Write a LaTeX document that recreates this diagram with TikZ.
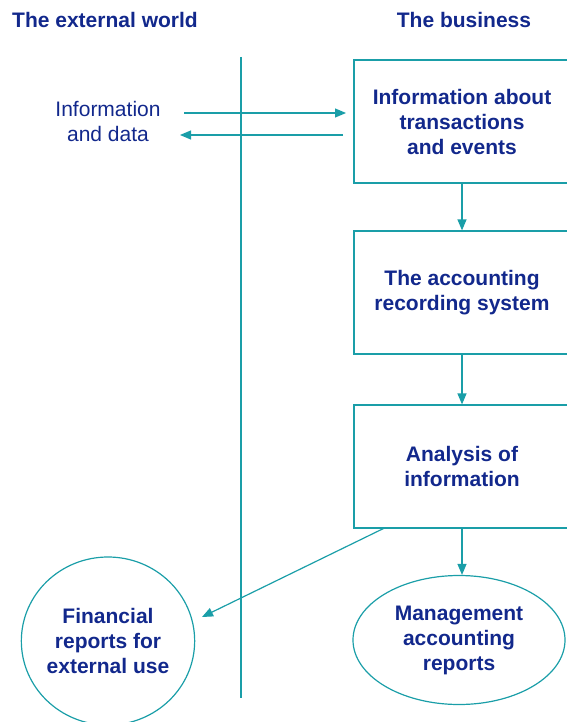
\documentclass[tikz,border=0pt]{standalone}
\usepackage{fontspec}
\setmainfont{Liberation Sans}
\usetikzlibrary{arrows.meta,shapes.geometric}
\definecolor{navy}{HTML}{12288C}
\definecolor{teal}{HTML}{1A9EA8}
\begin{document}
\begin{tikzpicture}[x=1pt,y=-1pt,
  every node/.style={text=navy,font=\fontsize{21}{25}\selectfont,align=center,inner sep=0pt},
  hdr/.style={font=\fontsize{21}{25}\selectfont\bfseries},
  stagebox/.style={draw=teal,line width=1.2pt,minimum width=216pt,minimum height=123pt,font=\fontsize{21}{25}\selectfont\bfseries},
  ell/.style={draw=teal,line width=1.2pt,ellipse,font=\fontsize{21}{25}\selectfont\bfseries},
  conn/.style={draw=teal,line width=1.2pt,-{Triangle[length=11pt,width=9pt]}},
  plain/.style={draw=teal,line width=1.2pt}]
\useasboundingbox (0,0) rectangle (566,722);
\node[hdr] (hl) at (105,20) {The external world};
\node[hdr] (hr) at (464,20) {The business};
\coordinate (vt) at (241,57);
\coordinate (vb) at (241,698);
\draw[plain] (vt) -- (vb);
\node (info) at (108,121) {Information\\and data};
\node[stagebox] (b1) at (462,121.5) {Information about\\transactions\\and events};
\node[stagebox] (b2) at (462,292.5) {The accounting\\recording system};
\node[stagebox] (b3) at (462,466.5) {Analysis of\\information};
\node[ell,minimum width=168pt,minimum height=168pt] (fin) at (108,641) {Financial\\reports for\\external use};
\node[ell,minimum width=212pt,minimum height=129pt] (mg) at (459,640) {Management\\accounting\\reports};
\coordinate (a1s) at (184,113);
\coordinate (a1e) at (346,113);
\coordinate (a2s) at (343,135);
\coordinate (a2e) at (180,135);
\draw[conn] (a1s) -- (a1e);
\draw[conn] (a2s) -- (a2e);
\draw[conn] (b1.south) -- (b2.north);
\draw[conn] (b2.south) -- (b3.north);
\draw[conn] (b3.south) -- (b3.south |- mg.north);
\coordinate (ds) at (384.5,528);
\coordinate (de) at (202,617);
\draw[conn] (ds) -- (de);
\end{tikzpicture}
\end{document}
